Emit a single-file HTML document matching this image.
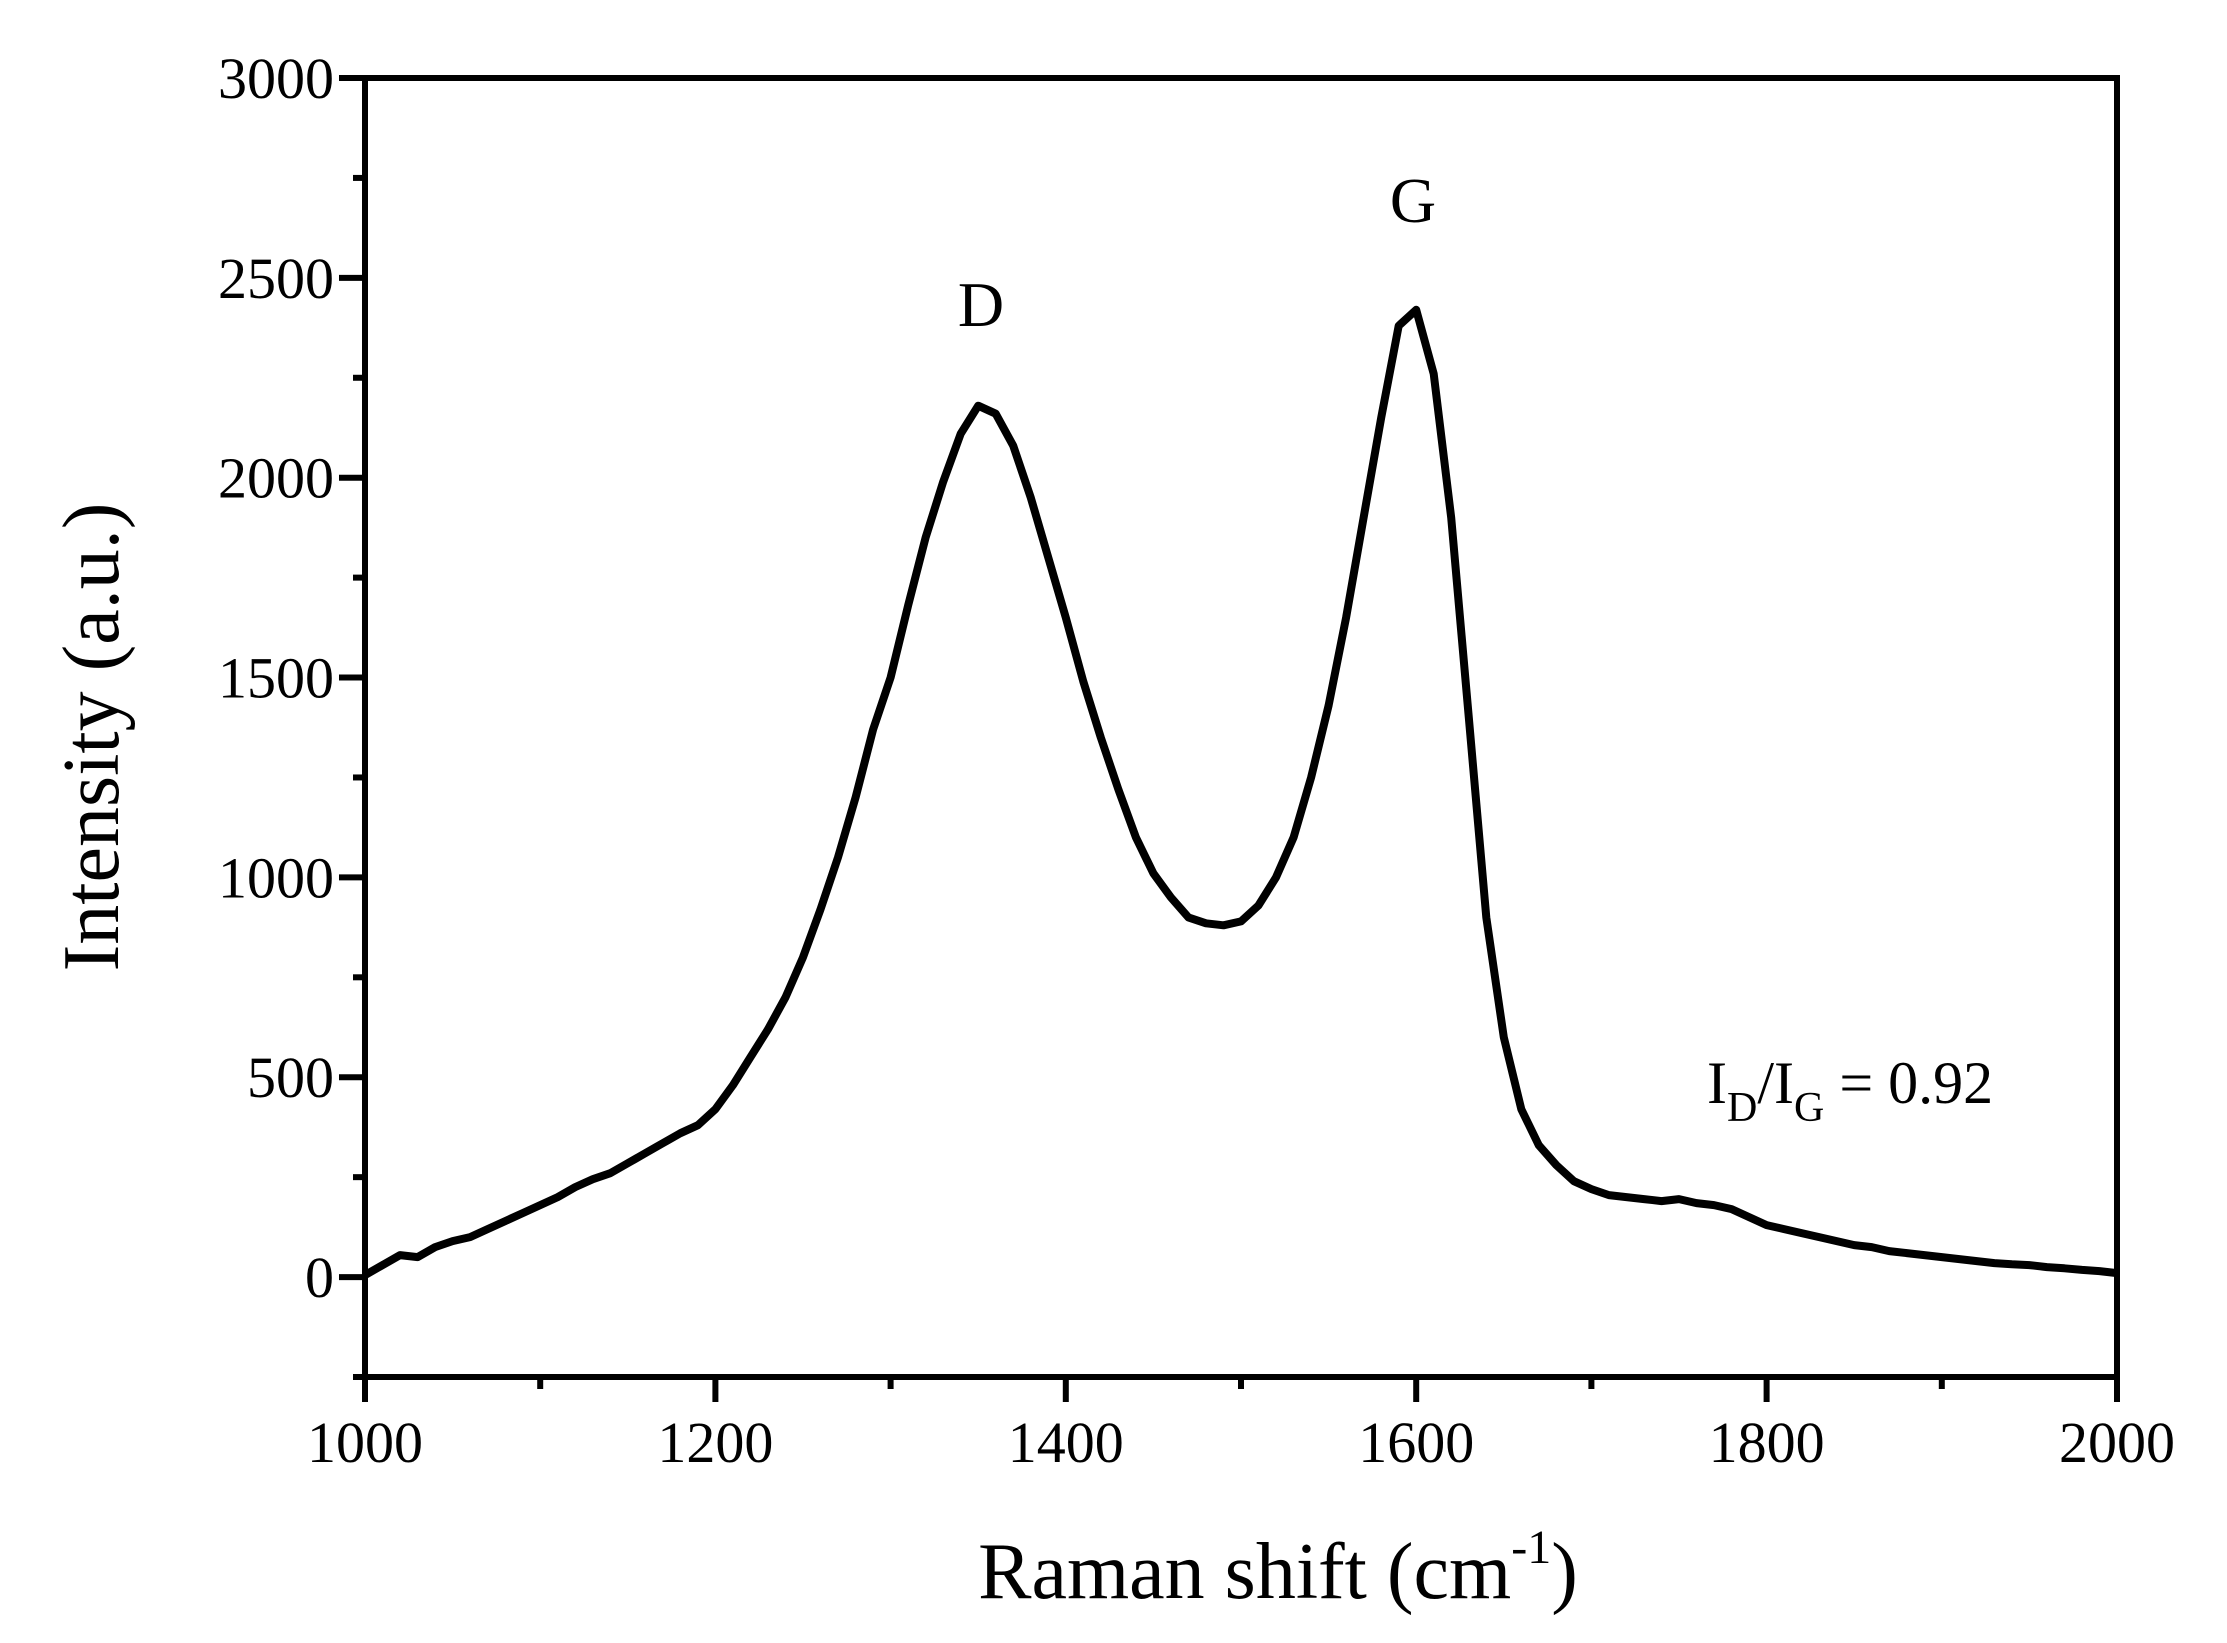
<!DOCTYPE html>
<html><head><meta charset="utf-8"><style>
html,body{margin:0;padding:0;background:#fff;}
svg{display:block;font-family:"Liberation Serif",serif;}
</style></head><body>
<svg id="chart" width="2227" height="1643" viewBox="0 0 2227 1643" xmlns="http://www.w3.org/2000/svg">
<rect width="2227" height="1643" fill="#fff"/>
<g id="plot"></g>
<text x="1278" y="1598" font-size="80" text-anchor="middle">Raman shift (cm<tspan font-size="48" dy="-35">-1</tspan><tspan dy="35">)</tspan></text>
<text transform="translate(118,737) rotate(-90)" font-size="80" text-anchor="middle">Intensity (a.u.)</text>
<text x="981" y="326" font-size="64" text-anchor="middle">D</text>
<text x="1413" y="222" font-size="64" text-anchor="middle">G</text>
<text x="1707" y="1103" font-size="60">I<tspan font-size="42" dy="18">D</tspan><tspan dy="-18">/I</tspan><tspan font-size="42" dy="18">G</tspan><tspan dy="-18"> = 0.92</tspan></text>
</svg>
<script>
const xTicks=[1000,1200,1400,1600,1800,2000];
const yTicks=[0,500,1000,1500,2000,2500,3000];
const shiftStart=1000, shiftStep=10;
const intensity=[5,30,55,50,75,90,100,120,140,160,
180,200,225,245,260,285,310,335,360,380,
420,480,550,620,700,800,920,1050,1200,1370,
1500,1680,1850,1990,2110,2180,2160,2080,1950,1800,
1650,1490,1350,1220,1100,1010,950,900,885,880,
890,930,1000,1100,1250,1430,1650,1900,2150,2380,
2420,2260,1900,1400,900,600,420,330,280,240,
220,205,200,195,190,195,185,180,170,150,
130,120,110,100,90,80,75,65,60,55,
50,45,40,35,32,30,25,22,18,15,10];
const L=365,R=2117,T=78,B=1377;
const X=v=>L+(v-1000)/1000*(R-L);
const Y=v=>T+(3000-v)/3250*(B-T);
const NS='http://www.w3.org/2000/svg';
const g=document.getElementById('plot');
function mk(tag,attrs){const e=document.createElementNS(NS,tag);for(const k in attrs)e.setAttribute(k,attrs[k]);g.appendChild(e);return e;}
let d='';
intensity.forEach((v,i)=>{d+=(i?'L':'M')+X(shiftStart+i*shiftStep).toFixed(1)+','+Y(v).toFixed(1);});
const line=mk('path',{d:d,fill:'none',stroke:'#000','stroke-width':8,'stroke-linejoin':'round'});


const fr=mk('rect',{x:L,y:T,width:R-L,height:B-T,fill:'none',stroke:'#000','stroke-width':6});


for(let v=1000;v<=2000;v+=100){
  const major=(v-1000)%200===0;
  const t=mk('line',{x1:X(v),x2:X(v),y1:B,y2:B+(major?25:12),stroke:'#000','stroke-width':6});
  
  
}
xTicks.forEach(v=>{
  const t=mk('text',{x:X(v),y:1462,'font-size':58,'text-anchor':'middle'});t.textContent=v;
  
  
});
for(let v=-250;v<=3000;v+=250){
  const major=v%500===0;
  const t=mk('line',{x1:L-(major?26:12),x2:L,y1:Y(v),y2:Y(v),stroke:'#000','stroke-width':6});
  
  
}
yTicks.forEach(v=>{
  const t=mk('text',{x:334,y:Y(v)+20,'font-size':58,'text-anchor':'end'});t.textContent=v;
  
  
});
</script>
</body></html>
